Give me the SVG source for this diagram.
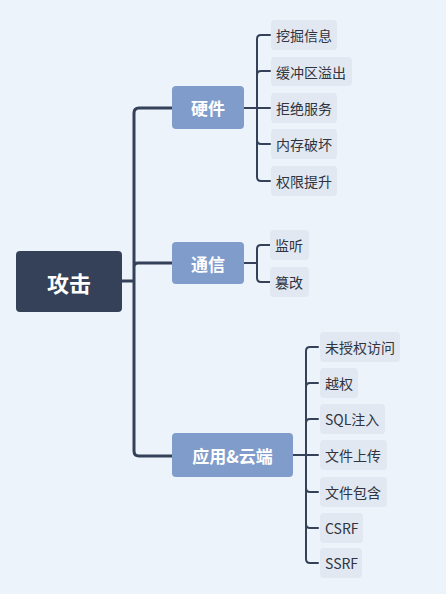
<svg xmlns="http://www.w3.org/2000/svg" width="446" height="594" viewBox="0 0 446 594">
<style>
text{font-family:"Noto Sans CJK SC","Noto Sans",sans-serif;dominant-baseline:central;text-anchor:middle}
.root rect{fill:#344158}
.root text{fill:#fff;font-size:22px;font-weight:bold}
.main rect{fill:#809ccb}
.main text{fill:#fff;font-size:17px;font-weight:bold}
.leaf rect{fill:#e2e8f1}
.leaf text{fill:#2f3440;font-size:14px;text-anchor:start}
.trunk{fill:none;stroke:#344158;stroke-width:3;stroke-linecap:round}
.twig{fill:none;stroke:#344158;stroke-width:2;stroke-linecap:round}
</style>
<rect width="446" height="594" fill="#edf3fa"/>
<g id="connectors">
<path class="trunk" d="M122,281 H134 M134,281 V113 Q134,108 139,108 H172 M134,281 V267 Q134,263 138,263 H172 M134,281 V451 Q134,456 139,456 H172"/>
<path class="twig" d="M244,108 H257 M257,108 V39 Q257,35 261,35 H270 M257,108 V75 Q257,71 261,71 H270 M257,108 H270 M257,108 V140 Q257,144 261,144 H270 M257,108 V177 Q257,181 261,181 H270"/>
<path class="twig" d="M244,263 H257 M257,263 V249 Q257,245 261,245 H270 M257,263 V278 Q257,282 261,282 H270"/>
<path class="twig" d="M293,455 H306 M306,455 V351 Q306,347 310,347 H318 M306,455 V387 Q306,383 310,383 H318 M306,455 V423 Q306,419 310,419 H318 M306,455 H318 M306,455 V488 Q306,492 310,492 H318 M306,455 V524 Q306,528 310,528 H318 M306,455 V559 Q306,563 310,563 H318"/>
</g>
<g id="root" class="root"><rect x="16" y="251" width="106" height="61" rx="4"/><text x="69" y="281.5">攻击</text></g>
<g id="hw" class="main"><rect x="172" y="86" width="72" height="43" rx="4"/><text x="208" y="107.5">硬件</text></g>
<g id="comm" class="main"><rect x="172" y="242" width="72" height="42" rx="4"/><text x="208" y="263">通信</text></g>
<g id="app" class="main"><rect x="172" y="433" width="121" height="44" rx="4"/><text x="232.5" y="455">应用&amp;云端</text></g>
<g id="l1" class="leaf"><rect x="271" y="20" width="66" height="30" rx="4"/><text x="276" y="35">挖掘信息</text></g>
<g id="l2" class="leaf"><rect x="271" y="57" width="81" height="29" rx="4"/><text x="276" y="71.5">缓冲区溢出</text></g>
<g id="l3" class="leaf"><rect x="271" y="93" width="66" height="30" rx="4"/><text x="276" y="108">拒绝服务</text></g>
<g id="l4" class="leaf"><rect x="271" y="129" width="66" height="30" rx="4"/><text x="276" y="144">内存破坏</text></g>
<g id="l5" class="leaf"><rect x="271" y="166" width="66" height="30" rx="4"/><text x="276" y="181">权限提升</text></g>
<g id="l6" class="leaf"><rect x="270" y="230" width="39" height="30" rx="4"/><text x="275" y="245">监听</text></g>
<g id="l7" class="leaf"><rect x="270" y="267" width="39" height="30" rx="4"/><text x="275" y="282">篡改</text></g>
<g id="l8" class="leaf"><rect x="320" y="332" width="80" height="30" rx="4"/><text x="325" y="347">未授权访问</text></g>
<g id="l9" class="leaf"><rect x="320" y="368" width="38" height="30" rx="4"/><text x="325" y="383">越权</text></g>
<g id="l10" class="leaf"><rect x="320" y="404" width="65" height="30" rx="4"/><text x="325" y="419">SQL注入</text></g>
<g id="l11" class="leaf"><rect x="320" y="440" width="67" height="30" rx="4"/><text x="325" y="455">文件上传</text></g>
<g id="l12" class="leaf"><rect x="320" y="477" width="67" height="30" rx="4"/><text x="325" y="492">文件包含</text></g>
<g id="l13" class="leaf"><rect x="320" y="513" width="43" height="30" rx="4"/><text x="325" y="528">CSRF</text></g>
<g id="l14" class="leaf"><rect x="320" y="548" width="42" height="30" rx="4"/><text x="325" y="563">SSRF</text></g>
</svg>
